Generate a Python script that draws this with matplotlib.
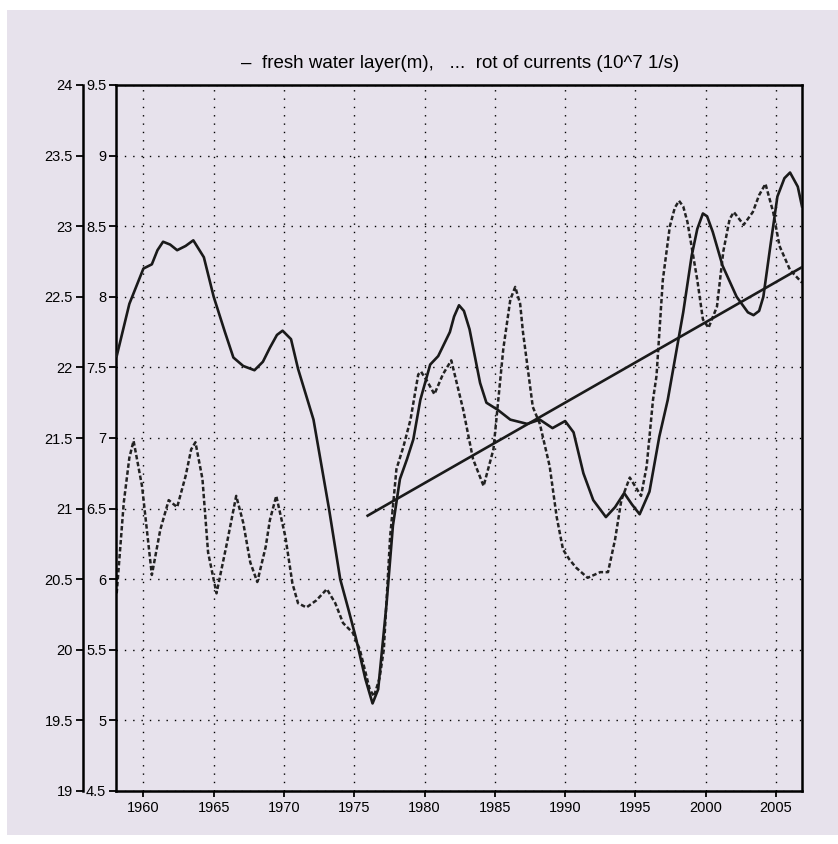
import matplotlib
matplotlib.use("Agg")
import matplotlib.pyplot as plt
from matplotlib.patches import Rectangle

plt.rcParams['font.family'] = ['Liberation Sans', 'DejaVu Sans']

# fresh water layer (m), outer left scale
fw_year = [1958.1, 1959.0, 1960.0, 1960.6, 1961.0, 1961.4, 1961.9, 1962.4, 1963.0,
           1963.55, 1964.3, 1965.0, 1965.8, 1966.4, 1967.1, 1967.9, 1968.5, 1969.0,
           1969.5, 1969.9, 1970.5, 1971.0, 1972.1, 1973.2, 1974.0, 1974.6, 1975.1,
           1975.8, 1976.3, 1976.7, 1977.3, 1977.75, 1978.25, 1978.75, 1979.2, 1979.7,
           1980.4, 1980.97, 1981.8, 1982.1, 1982.45, 1982.8, 1983.2, 1983.95, 1984.4,
           1985.2, 1986.1, 1987.3, 1988.2, 1989.1, 1990.0, 1990.6, 1991.3, 1992.0,
           1992.9, 1993.55, 1994.2, 1994.75, 1995.3, 1996.0, 1996.7, 1997.3, 1998.4,
           1999.0, 1999.4, 1999.8, 2000.1, 2000.5, 2001.2, 2002.2, 2003.0, 2003.4,
           2003.8, 2004.1, 2004.6, 2005.1, 2005.6, 2006.0, 2006.55, 2006.85]
fw_val = [22.08, 22.45, 22.70, 22.73, 22.83, 22.89, 22.87, 22.83, 22.86,
          22.90, 22.78, 22.50, 22.25, 22.07, 22.01, 21.98, 22.04, 22.14,
          22.23, 22.26, 22.20, 21.99, 21.63, 21.00, 20.50, 20.28, 20.09,
          19.79, 19.62, 19.72, 20.33, 20.88, 21.21, 21.35, 21.49, 21.77,
          22.02, 22.08, 22.25, 22.36, 22.44, 22.40, 22.27, 21.89, 21.75,
          21.70, 21.63, 21.60, 21.63, 21.57, 21.62, 21.54, 21.25, 21.06,
          20.94, 21.01, 21.11, 21.03, 20.96, 21.12, 21.51, 21.77, 22.39,
          22.79, 22.98, 23.09, 23.07, 22.96, 22.72, 22.50, 22.39, 22.37,
          22.40, 22.50, 22.86, 23.21, 23.34, 23.38, 23.28, 23.14]

# rot of currents (10^7 1/s), inner left scale
rot_year = [1958.1, 1958.6, 1959.0, 1959.3, 1959.9, 1960.3, 1960.6, 1961.2, 1961.8,
            1962.4, 1963.0, 1963.4, 1963.7, 1964.2, 1964.6, 1965.2, 1965.95, 1966.6,
            1967.1, 1967.6, 1968.1, 1968.7, 1969.0, 1969.45, 1970.1, 1970.6, 1971.0,
            1971.6, 1972.3, 1973.05, 1973.65, 1974.2, 1974.9, 1975.4, 1976.1, 1976.4,
            1976.8, 1977.1, 1977.55, 1978.0, 1978.5, 1979.0, 1979.55, 1979.75, 1980.2,
            1980.7, 1981.3, 1981.9, 1982.75, 1983.45, 1984.2, 1984.9, 1985.6, 1986.1,
            1986.45, 1986.8, 1987.0, 1987.7, 1988.2, 1988.9, 1989.4, 1989.85, 1990.3,
            1990.8, 1991.6, 1992.5, 1993.05, 1993.55, 1994.0, 1994.6, 1995.4, 1995.8,
            1996.25, 1996.5, 1996.95, 1997.45, 1997.8, 1998.1, 1998.4, 1998.7, 1999.4,
            1999.8, 2000.2, 2000.8, 2001.25, 2001.7, 2002.0, 2002.7, 2003.35, 2003.8,
            2004.25, 2004.8, 2005.25, 2006.0, 2006.85]
rot_val = [5.90, 6.54, 6.86, 6.98, 6.66, 6.30, 6.03, 6.35, 6.56,
           6.51, 6.73, 6.92, 6.97, 6.71, 6.19, 5.90, 6.26, 6.59,
           6.40, 6.12, 5.98, 6.23, 6.42, 6.59, 6.30, 5.97, 5.83,
           5.80, 5.85, 5.93, 5.83, 5.69, 5.62, 5.50, 5.22, 5.17,
           5.30, 5.50, 6.30, 6.78, 6.94, 7.13, 7.45, 7.47, 7.40,
           7.31, 7.45, 7.55, 7.20, 6.85, 6.66, 6.92, 7.63, 7.98,
           8.07, 7.95, 7.75, 7.22, 7.10, 6.80, 6.44, 6.21, 6.14,
           6.08, 6.01, 6.05, 6.05, 6.28, 6.56, 6.72, 6.59, 6.80,
           7.27, 7.44, 8.12, 8.50, 8.63, 8.68, 8.64, 8.53, 8.12,
           7.84, 7.78, 7.93, 8.32, 8.55, 8.60, 8.51, 8.60, 8.72,
           8.80, 8.60, 8.36, 8.19, 8.10]

# linear trend of the fresh water layer
trend_year = [1975.95, 2006.85]
trend_val = [20.95, 22.71]

x_ticks = [1960, 1965, 1970, 1975, 1980, 1985, 1990, 1995, 2000, 2005]
inner_ticks = [4.5, 5, 5.5, 6, 6.5, 7, 7.5, 8, 8.5, 9, 9.5]
outer_ticks = [19, 19.5, 20, 20.5, 21, 21.5, 22, 22.5, 23, 23.5, 24]

bg = '#e7e2ec'
dot = (0, (1, 5))

fig = plt.figure(figsize=(8.38, 8.44), dpi=100, facecolor='white')
fig.patches.append(Rectangle((7 / 838, 1 - 835 / 844), 1 - 7 / 838, 825 / 844,
                             transform=fig.transFigure, facecolor=bg,
                             edgecolor='none', zorder=-10))

ax = fig.add_axes([116 / 838, 1 - 791 / 844, 686 / 838, 706 / 844])
ax.set_facecolor('none')
ax.set_xlim(1958.05, 2006.85)
ax.set_ylim(4.5, 9.5)
ax.set_xticks(x_ticks)
ax.set_yticks(inner_ticks)
ax.set_yticklabels(['%g' % v for v in inner_ticks])
ax.grid(True, color='black', linestyle=dot, linewidth=1.0)
ax.tick_params(axis='y', direction='out', length=5, width=1.3, pad=2, labelsize=10.5)
ax.tick_params(axis='x', direction='out', length=4, width=1.3, pad=3, labelsize=10.5)
for s in ax.spines.values():
    s.set_linewidth(1.8)

ax.plot(rot_year, rot_val, color='#222222', linestyle=(0, (1.8, 1.0)), linewidth=1.8)

ax_out = ax.twinx()
ax_out.set_ylim(19, 24)
ax_out.set_yticks(outer_ticks)
ax_out.set_yticklabels(['%g' % v for v in outer_ticks])
ax_out.yaxis.set_ticks_position('left')
ax_out.yaxis.set_label_position('left')
ax_out.spines['right'].set_visible(False)
ax_out.spines['top'].set_visible(False)
ax_out.spines['bottom'].set_visible(False)
ax_out.spines['left'].set_position(('outward', 24))
ax_out.spines['left'].set_linewidth(1.8)
ax_out.tick_params(axis='y', direction='out', length=5, width=1.3, pad=2, labelsize=10.5)

ax_out.plot(fw_year, fw_val, color='#1a1a1a', linewidth=1.9, solid_joinstyle='round')
ax_out.plot(trend_year, trend_val, color='#1a1a1a', linewidth=1.9)

fig.text(460 / 838, 1 - 64 / 844,
         '–  fresh water layer(m),   ...  rot of currents (10^7 1/s)',
         ha='center', va='center', fontsize=13.5)

fig.savefig('out.png', dpi=100, facecolor=fig.get_facecolor())
